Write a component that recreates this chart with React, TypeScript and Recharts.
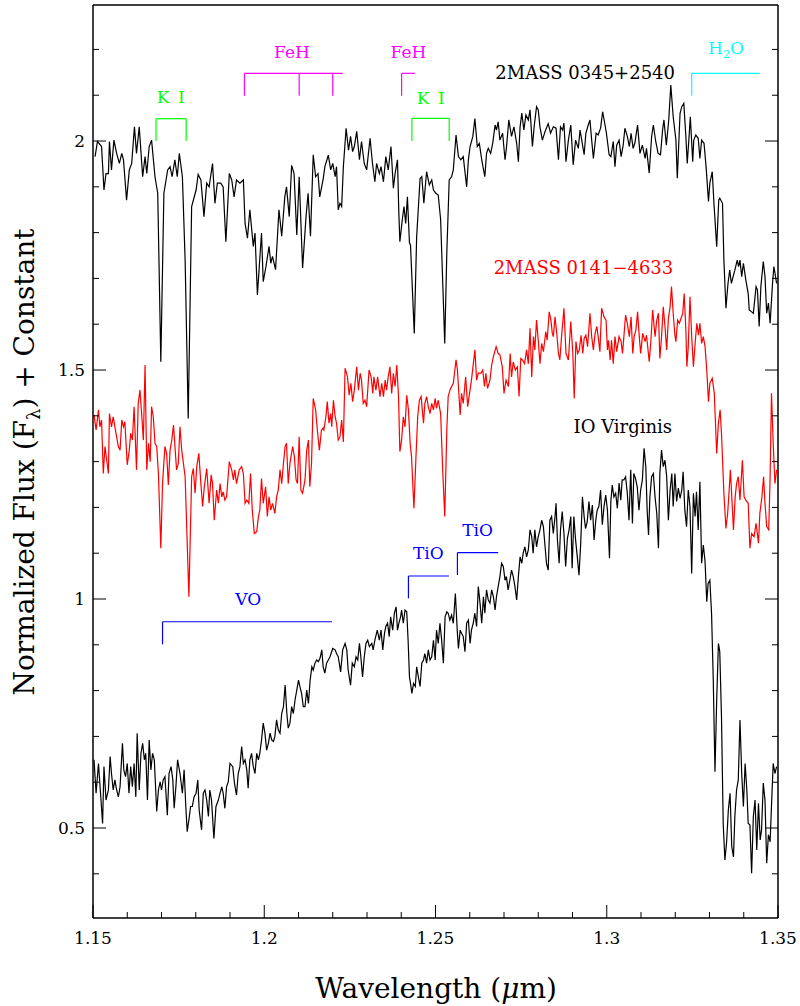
import { LineChart, Line, XAxis, YAxis, ReferenceLine, ReferenceDot } from 'recharts';

// [wavelength (um), normalized flux + offset]
const spec0345: [number, number][] = [
  [1.1506,1.966],[1.1513,1.999],[1.1525,1.988],[1.1532,1.893],[1.1538,1.929],[1.1545,1.929],[1.1548,1.999],[1.1554,1.937],[1.1561,2.002],[1.1569,1.973],
  [1.1577,1.951],[1.1584,1.973],[1.1589,1.959],[1.1598,1.871],[1.1606,1.937],[1.1613,1.951],[1.1621,2.031],[1.1627,1.973],[1.1635,2.031],[1.1645,1.922],
  [1.1652,1.966],[1.1657,1.929],[1.1664,1.988],[1.1671,2.002],[1.1681,1.922],[1.1689,1.886],[1.1698,1.518],[1.1707,1.886],[1.1718,1.937],[1.1725,1.944],
  [1.1731,1.922],[1.1739,1.959],[1.1746,1.922],[1.1752,1.973],[1.1761,1.922],[1.1769,1.740],[1.1778,1.394],[1.1788,1.857],[1.1801,1.893],[1.1807,1.927],
  [1.1815,1.915],[1.1824,1.835],[1.1832,1.908],[1.1839,1.900],[1.1849,1.951],[1.1856,1.864],[1.1863,1.908],[1.1873,1.908],[1.1880,1.900],[1.1888,1.780],
  [1.1898,1.929],[1.1905,1.915],[1.1912,1.878],[1.1919,1.915],[1.1929,1.908],[1.1939,1.915],[1.1944,1.820],[1.1951,1.788],[1.1958,1.850],[1.1968,1.770],
  [1.1973,1.799],[1.1980,1.664],[1.1992,1.799],[1.1997,1.693],[1.2005,1.726],[1.2014,1.770],[1.2019,1.733],[1.2024,1.748],[1.2033,1.719],[1.2043,1.850],
  [1.2051,1.792],[1.2060,1.878],[1.2065,1.900],[1.2073,1.835],[1.2080,1.947],[1.2087,1.929],[1.2095,1.795],[1.2102,1.922],[1.2112,1.723],[1.2122,1.835],
  [1.2128,1.886],[1.2135,1.792],[1.2143,1.970],[1.2150,1.922],[1.2157,1.929],[1.2162,1.878],[1.2172,1.917],
  [1.2177,1.944],[1.2187,1.969],[1.2194,1.937],[1.2200,1.951],[1.2207,1.922],[1.2211,1.944],[1.2216,1.850],[1.2221,1.864],[1.2226,1.857],[1.2231,1.944],
  [1.2239,2.028],[1.2246,1.980],[1.2252,2.010],[1.2258,1.977],[1.2263,1.988],[1.2270,2.021],[1.2278,1.959],[1.2284,1.999],[1.2292,1.951],[1.2299,1.937],
  [1.2309,2.006],[1.2316,1.951],[1.2323,1.911],[1.2328,1.951],[1.2336,1.929],[1.2341,1.944],[1.2348,1.911],[1.2355,1.966],[1.2362,1.937],[1.2370,1.988],
  [1.2377,1.897],[1.2382,1.929],[1.2389,1.959],[1.2393,1.842],[1.2396,1.780],[1.2403,1.828],[1.2408,1.857],[1.2413,1.820],[1.2418,1.878],[1.2424,1.777],
  [1.2427,1.773],[1.2438,1.580],[1.2445,1.791],[1.2455,1.918],[1.2460,1.922],[1.2466,1.864],[1.2474,1.933],[1.2482,1.904],[1.2489,1.915],[1.2494,1.893],
  [1.2501,1.886],[1.2508,1.882],[1.2515,1.828],[1.2527,1.558],[1.2533,1.755],[1.2540,1.915],[1.2547,1.922],[1.2552,1.937],[1.2560,2.013],[1.2567,1.966],
  [1.2574,1.959],[1.2581,1.966],[1.2591,1.900],[1.2596,1.959],[1.2601,1.988],[1.2609,2.010],[1.2615,2.049],[1.2622,1.988],[1.2628,1.995],[1.2635,1.959],
  [1.2644,1.922],[1.2649,1.973],[1.2654,1.984],[1.2661,1.973],[1.2667,1.995],[1.2674,2.035],[1.2678,2.024],[1.2683,2.042],[1.2688,2.002],[1.2696,2.017],
  [1.2703,1.959],[1.2707,1.984],[1.2714,2.046],[1.2722,2.010],[1.2729,2.031],[1.2737,1.995],[1.2742,1.955],[1.2747,2.031],[1.2752,2.061],[1.2758,2.024],
  [1.2764,2.057],[1.2771,2.046],[1.2776,2.068],[1.2783,1.988],[1.2788,2.031],[1.2795,2.075],[1.2800,2.068],[1.2805,2.031],[1.2812,2.002],[1.2820,2.021],
  [1.2829,2.038],[1.2836,2.017],[1.2844,2.031],
  [1.2852,2.028],[1.2859,1.959],[1.2865,2.031],[1.2871,2.024],[1.2875,2.039],[1.2881,1.955],[1.2888,2.002],[1.2895,2.035],[1.2902,1.948],[1.2909,2.002],
  [1.2917,1.984],[1.2922,2.024],[1.2927,2.002],[1.2934,1.970],[1.2939,2.017],[1.2946,2.035],[1.2951,2.046],[1.2956,2.002],[1.2961,1.962],[1.2969,2.017],
  [1.2975,2.013],[1.2982,2.028],[1.2988,2.064],[1.2995,2.035],[1.2999,2.017],[1.3007,1.970],[1.3012,1.966],[1.3019,1.999],[1.3024,1.944],[1.3029,1.991],
  [1.3036,2.002],[1.3042,1.966],[1.3048,1.991],[1.3053,2.028],[1.3060,2.010],[1.3066,1.988],[1.3071,2.017],[1.3077,1.984],[1.3082,1.995],[1.3090,2.035],
  [1.3097,1.973],[1.3104,1.991],[1.3112,1.962],[1.3116,1.984],[1.3124,1.930],[1.3131,2.010],[1.3136,2.035],[1.3143,1.999],[1.3150,1.973],[1.3157,1.970],
  [1.3163,2.024],[1.3167,2.046],[1.3174,1.991],[1.3181,2.046],[1.3187,2.122],[1.3194,2.053],[1.3202,2.002],[1.3206,1.919],[1.3214,2.060],[1.3219,2.075],
  [1.3225,2.082],[1.3231,2.010],[1.3235,1.951],[1.3241,2.017],[1.3244,2.053],[1.3251,1.955],[1.3254,2.002],[1.3260,2.013],[1.3267,2.006],[1.3272,1.962],
  [1.3277,2.002],[1.3284,1.995],[1.3290,1.944],[1.3297,1.868],[1.3301,1.908],[1.3308,1.933],[1.3313,1.864],[1.3321,1.769],[1.3327,1.871],[1.3330,1.875],
  [1.3338,1.864],[1.3342,1.740],[1.3348,1.635],[1.3354,1.689],[1.3359,1.718],[1.3364,1.689],[1.3369,1.704],[1.3374,1.718],[1.3381,1.740],[1.3385,1.726],
  [1.3389,1.740],[1.3394,1.704],[1.3399,1.733],[1.3406,1.697],[1.3413,1.667],[1.3416,1.631],[1.3423,1.627],[1.3428,1.624],[1.3436,1.682],[1.3440,1.675],
  [1.3445,1.595],[1.3450,1.682],[1.3457,1.737],[1.3462,1.704],[1.3467,1.624],[1.3472,1.646],[1.3477,1.602],[1.3484,1.689],[1.3488,1.726],[1.3496,1.689],
];

const spec0141: [number, number][] = [
  [1.1503,1.402],[1.1509,1.369],[1.1516,1.413],[1.1520,1.376],[1.1525,1.391],[1.1530,1.274],[1.1535,1.333],[1.1540,1.303],[1.1545,1.274],[1.1548,1.405],
  [1.1554,1.376],[1.1559,1.398],[1.1567,1.362],[1.1574,1.333],[1.1579,1.325],[1.1584,1.391],[1.1589,1.376],[1.1593,1.387],[1.1600,1.293],[1.1606,1.325],
  [1.1610,1.362],[1.1615,1.347],[1.1620,1.420],[1.1627,1.282],[1.1632,1.427],[1.1637,1.456],[1.1642,1.405],[1.1647,1.347],[1.1652,1.511],[1.1657,1.282],
  [1.1662,1.340],[1.1667,1.300],[1.1671,1.420],[1.1676,1.398],[1.1681,1.340],[1.1686,1.333],[1.1691,1.274],[1.1698,1.111],[1.1703,1.252],[1.1710,1.333],
  [1.1715,1.318],[1.1720,1.249],[1.1725,1.325],[1.1730,1.347],[1.1735,1.380],[1.1740,1.325],[1.1744,1.282],[1.1749,1.296],[1.1754,1.376],[1.1759,1.325],
  [1.1769,1.267],[1.1780,1.005],[1.1788,1.267],[1.1793,1.285],[1.1798,1.231],[1.1803,1.289],[1.1809,1.318],[1.1815,1.252],[1.1820,1.202],[1.1825,1.245],
  [1.1832,1.285],[1.1839,1.209],[1.1845,1.271],[1.1849,1.252],[1.1854,1.172],[1.1861,1.238],[1.1866,1.209],[1.1871,1.252],[1.1876,1.223],[1.1880,1.234],
  [1.1885,1.216],[1.1890,1.223],[1.1898,1.300],[1.1905,1.282],[1.1910,1.260],[1.1914,1.282],[1.1919,1.252],[1.1927,1.282],[1.1934,1.289],[1.1939,1.274],
  [1.1944,1.209],[1.1949,1.216],[1.1955,1.209],[1.1960,1.274],[1.1965,1.194],[1.1971,1.143],[1.1978,1.147],[1.1983,1.180],[1.1987,1.194],[1.1992,1.263],
  [1.1997,1.209],[1.2004,1.245],[1.2009,1.180],[1.2014,1.223],[1.2019,1.194],[1.2024,1.209],[1.2031,1.187],[1.2036,1.223],[1.2041,1.238],[1.2046,1.282],
  [1.2051,1.252],[1.2056,1.296],[1.2061,1.333],[1.2065,1.340],[1.2070,1.252],[1.2075,1.296],[1.2083,1.333],[1.2088,1.311],[1.2093,1.260],[1.2097,1.252],
  [1.2102,1.354],[1.2107,1.238],[1.2112,1.231],[1.2119,1.260],[1.2124,1.325],[1.2129,1.347],[1.2133,1.245],[1.2138,1.296],[1.2143,1.438],[1.2150,1.413],
  [1.2155,1.369],[1.2161,1.325],[1.2167,1.369],[1.2172,1.373],
  [1.2174,1.369],[1.2180,1.398],[1.2184,1.431],[1.2189,1.384],[1.2194,1.405],[1.2197,1.376],[1.2202,1.434],[1.2207,1.398],[1.2211,1.384],[1.2216,1.347],
  [1.2221,1.354],[1.2226,1.391],[1.2231,1.343],[1.2236,1.504],[1.2243,1.485],[1.2248,1.445],[1.2253,1.471],[1.2258,1.431],[1.2263,1.456],[1.2270,1.507],
  [1.2275,1.456],[1.2280,1.493],[1.2284,1.478],[1.2289,1.427],[1.2294,1.434],[1.2299,1.420],[1.2306,1.500],[1.2312,1.485],[1.2317,1.449],[1.2320,1.485],
  [1.2326,1.456],[1.2331,1.485],[1.2338,1.442],[1.2343,1.471],[1.2348,1.442],[1.2353,1.478],[1.2357,1.456],[1.2362,1.485],[1.2367,1.507],[1.2372,1.449],
  [1.2377,1.493],[1.2382,1.464],[1.2387,1.511],[1.2392,1.442],[1.2396,1.322],[1.2401,1.347],[1.2406,1.398],[1.2411,1.376],[1.2416,1.445],[1.2421,1.413],
  [1.2426,1.340],[1.2430,1.311],[1.2437,1.198],[1.2443,1.311],[1.2448,1.398],[1.2453,1.434],[1.2458,1.442],[1.2465,1.384],[1.2469,1.427],[1.2474,1.442],
  [1.2479,1.420],[1.2484,1.405],[1.2489,1.427],[1.2494,1.413],[1.2499,1.438],[1.2503,1.416],[1.2508,1.434],[1.2515,1.405],[1.2521,1.282],[1.2527,1.180],
  [1.2533,1.369],[1.2537,1.442],[1.2542,1.456],[1.2547,1.464],[1.2552,1.471],[1.2560,1.522],[1.2564,1.500],[1.2572,1.402],[1.2576,1.449],[1.2581,1.427],
  [1.2588,1.485],[1.2594,1.420],[1.2598,1.442],[1.2605,1.478],[1.2615,1.544],[1.2620,1.478],[1.2625,1.493],[1.2633,1.493],[1.2638,1.500],[1.2643,1.464],
  [1.2647,1.493],[1.2652,1.460],[1.2659,1.478],[1.2664,1.511],[1.2669,1.529],[1.2677,1.551],[1.2683,1.536],[1.2688,1.533],[1.2695,1.507],[1.2700,1.449],
  [1.2706,1.478],[1.2713,1.464],[1.2718,1.536],[1.2722,1.485],[1.2727,1.518],[1.2733,1.500],[1.2739,1.507],[1.2744,1.442],[1.2749,1.525],[1.2754,1.522],
  [1.2760,1.514],[1.2766,1.544],[1.2771,1.514],[1.2776,1.591],[1.2781,1.485],[1.2786,1.573],[1.2790,1.544],[1.2795,1.609],[1.2800,1.565],[1.2805,1.514],
  [1.2810,1.558],[1.2815,1.540],[1.2822,1.584],[1.2826,1.565],[1.2832,1.627],[1.2837,1.609],[1.2841,1.580],[1.2844,1.573],
  [1.2849,1.616],[1.2854,1.580],[1.2859,1.536],[1.2863,1.522],[1.2868,1.573],[1.2875,1.635],[1.2881,1.536],[1.2888,1.522],[1.2895,1.606],[1.2901,1.536],
  [1.2905,1.438],[1.2910,1.562],[1.2915,1.536],[1.2920,1.544],[1.2925,1.576],[1.2930,1.536],[1.2934,1.569],[1.2939,1.576],[1.2944,1.551],[1.2951,1.624],
  [1.2956,1.573],[1.2961,1.544],[1.2966,1.580],[1.2971,1.595],[1.2975,1.573],[1.2980,1.540],[1.2985,1.635],[1.2992,1.616],[1.2998,1.609],[1.3002,1.544],
  [1.3005,1.565],[1.3010,1.522],[1.3014,1.565],[1.3019,1.514],[1.3024,1.573],[1.3029,1.540],[1.3036,1.573],[1.3042,1.562],[1.3046,1.536],[1.3050,1.573],
  [1.3055,1.620],[1.3060,1.602],[1.3066,1.573],[1.3071,1.616],[1.3076,1.536],[1.3080,1.573],[1.3085,1.587],[1.3090,1.627],[1.3095,1.573],[1.3099,1.536],
  [1.3105,1.580],[1.3112,1.562],[1.3116,1.576],[1.3119,1.555],[1.3124,1.518],[1.3129,1.565],[1.3134,1.631],[1.3141,1.573],[1.3146,1.609],[1.3151,1.624],
  [1.3155,1.525],[1.3160,1.573],[1.3165,1.638],[1.3170,1.595],[1.3175,1.544],[1.3180,1.613],[1.3185,1.638],[1.3189,1.682],[1.3194,1.624],[1.3199,1.576],
  [1.3202,1.562],[1.3207,1.609],[1.3212,1.602],[1.3217,1.613],[1.3222,1.624],[1.3226,1.667],[1.3231,1.587],[1.3234,1.507],[1.3238,1.551],[1.3243,1.660],
  [1.3248,1.573],[1.3253,1.507],[1.3258,1.558],[1.3263,1.602],[1.3268,1.576],[1.3272,1.602],[1.3277,1.558],[1.3282,1.573],[1.3287,1.551],[1.3292,1.500],
  [1.3297,1.431],[1.3301,1.471],[1.3308,1.482],[1.3314,1.449],[1.3321,1.318],[1.3326,1.384],[1.3331,1.413],[1.3335,1.362],[1.3342,1.231],[1.3348,1.154],
  [1.3353,1.187],[1.3358,1.245],[1.3361,1.282],[1.3366,1.209],[1.3370,1.151],[1.3375,1.223],[1.3379,1.252],[1.3384,1.267],[1.3389,1.216],[1.3396,1.303],
  [1.3401,1.223],[1.3406,1.216],[1.3413,1.209],[1.3418,1.111],[1.3423,1.143],[1.3430,1.136],[1.3436,1.165],[1.3443,1.122],[1.3447,1.187],[1.3453,1.223],
  [1.3458,1.267],[1.3462,1.209],[1.3467,1.158],[1.3473,1.151],[1.3477,1.267],[1.3481,1.449],[1.3486,1.340],[1.3491,1.252],[1.3496,1.282],
];

const ioVirginis: [number, number][] = [
  [1.1503,0.649],[1.1509,0.576],[1.1516,0.641],[1.1522,0.576],[1.1528,0.510],[1.1532,0.634],[1.1538,0.561],[1.1545,0.583],[1.1550,0.656],[1.1554,0.619],
  [1.1559,0.583],[1.1564,0.605],[1.1569,0.583],[1.1574,0.568],[1.1579,0.590],[1.1586,0.685],[1.1590,0.627],[1.1595,0.612],[1.1600,0.641],[1.1605,0.576],
  [1.1610,0.634],[1.1615,0.590],[1.1620,0.641],[1.1625,0.568],[1.1629,0.707],[1.1635,0.583],[1.1640,0.663],[1.1645,0.685],[1.1650,0.649],[1.1654,0.663],
  [1.1659,0.561],[1.1664,0.692],[1.1669,0.627],[1.1674,0.663],[1.1679,0.649],[1.1686,0.536],[1.1691,0.583],[1.1696,0.601],[1.1700,0.583],[1.1705,0.605],
  [1.1710,0.612],[1.1717,0.528],[1.1722,0.619],[1.1728,0.634],[1.1733,0.605],[1.1737,0.543],[1.1742,0.590],[1.1747,0.649],[1.1754,0.619],[1.1761,0.576],
  [1.1766,0.627],[1.1771,0.547],[1.1775,0.492],[1.1780,0.518],[1.1785,0.547],[1.1790,0.547],[1.1795,0.568],[1.1801,0.576],[1.1806,0.605],[1.1810,0.539],
  [1.1817,0.496],[1.1822,0.576],[1.1827,0.583],[1.1832,0.561],[1.1837,0.525],[1.1841,0.583],[1.1846,0.561],[1.1853,0.477],[1.1859,0.547],[1.1866,0.561],
  [1.1871,0.576],[1.1876,0.590],[1.1880,0.576],[1.1885,0.543],[1.1890,0.590],[1.1895,0.601],[1.1900,0.641],[1.1908,0.634],[1.1913,0.598],[1.1919,0.572],
  [1.1924,0.619],[1.1929,0.634],[1.1934,0.678],[1.1939,0.641],[1.1944,0.649],[1.1949,0.627],[1.1953,0.587],[1.1958,0.649],[1.1963,0.663],[1.1968,0.634],
  [1.1973,0.619],[1.1978,0.663],[1.1983,0.649],[1.1987,0.663],[1.1992,0.692],[1.1997,0.729],[1.2002,0.707],[1.2007,0.670],[1.2012,0.685],[1.2017,0.707],
  [1.2022,0.692],[1.2027,0.689],[1.2031,0.700],[1.2036,0.736],[1.2041,0.714],[1.2046,0.707],[1.2051,0.750],[1.2056,0.765],[1.2061,0.812],[1.2066,0.750],
  [1.2070,0.718],[1.2075,0.729],[1.2080,0.765],[1.2085,0.750],[1.2090,0.780],[1.2095,0.801],[1.2100,0.823],[1.2104,0.809],[1.2109,0.794],[1.2114,0.765],
  [1.2119,0.765],[1.2124,0.801],[1.2129,0.772],[1.2134,0.823],[1.2139,0.852],[1.2143,0.845],[1.2148,0.860],[1.2153,0.867],[1.2158,0.863],[1.2163,0.871],
  [1.2168,0.889],[1.2172,0.852],
  [1.2177,0.838],[1.2182,0.860],[1.2187,0.867],[1.2192,0.874],[1.2200,0.892],[1.2207,0.889],[1.2211,0.881],[1.2216,0.874],[1.2223,0.841],[1.2229,0.889],
  [1.2236,0.903],[1.2241,0.889],[1.2245,0.845],[1.2252,0.812],[1.2257,0.860],[1.2263,0.852],[1.2268,0.874],[1.2273,0.867],[1.2278,0.903],[1.2282,0.874],
  [1.2287,0.830],[1.2292,0.874],[1.2297,0.903],[1.2302,0.910],[1.2307,0.896],[1.2314,0.903],[1.2318,0.889],[1.2323,0.910],[1.2330,0.932],[1.2336,0.910],
  [1.2341,0.932],[1.2346,0.889],[1.2351,0.925],[1.2355,0.940],[1.2360,0.947],[1.2365,0.918],[1.2369,0.961],[1.2375,0.932],[1.2380,0.969],[1.2385,0.983],
  [1.2389,0.932],[1.2393,0.947],[1.2398,0.961],[1.2401,0.976],[1.2406,0.947],[1.2411,0.976],[1.2416,0.972],[1.2420,0.910],[1.2424,0.830],[1.2427,0.816],
  [1.2431,0.794],[1.2436,0.816],[1.2441,0.809],[1.2445,0.852],[1.2450,0.830],[1.2455,0.809],[1.2460,0.860],[1.2465,0.867],[1.2469,0.881],[1.2474,0.860],
  [1.2479,0.889],[1.2484,0.867],[1.2489,0.874],[1.2494,0.910],[1.2499,0.867],[1.2503,0.932],[1.2508,0.903],[1.2513,0.947],[1.2518,0.910],[1.2523,0.860],
  [1.2528,0.961],[1.2533,0.972],[1.2537,0.969],[1.2542,0.954],[1.2547,0.965],[1.2552,0.947],[1.2558,1.012],[1.2564,0.925],[1.2567,0.892],[1.2572,0.932],
  [1.2576,0.925],[1.2581,0.918],[1.2586,0.885],[1.2591,0.947],[1.2596,0.954],[1.2601,0.903],[1.2605,0.932],[1.2610,0.947],[1.2615,0.969],[1.2620,0.940],
  [1.2625,1.027],[1.2630,0.991],[1.2635,0.947],[1.2640,1.005],[1.2644,0.969],[1.2649,1.020],[1.2654,0.998],[1.2659,0.991],[1.2664,1.020],[1.2669,1.005],
  [1.2674,0.976],[1.2678,1.005],[1.2683,1.027],[1.2688,1.049],[1.2693,1.078],[1.2698,1.071],[1.2703,1.041],[1.2707,1.049],[1.2712,1.020],[1.2717,1.041],
  [1.2722,1.063],[1.2727,1.049],[1.2732,1.027],[1.2737,0.998],[1.2742,1.049],[1.2747,1.092],[1.2752,1.078],[1.2756,1.100],[1.2761,1.114],[1.2766,1.092],
  [1.2771,1.107],[1.2776,1.151],[1.2781,1.136],[1.2785,1.100],[1.2790,1.151],[1.2795,1.114],[1.2800,1.136],[1.2805,1.151],[1.2810,1.172],[1.2815,1.158],
  [1.2820,1.114],[1.2824,1.078],[1.2829,1.063],[1.2834,1.172],[1.2839,1.180],[1.2844,1.143],
  [1.2849,1.180],[1.2852,1.209],[1.2856,1.129],[1.2861,1.078],[1.2865,1.151],[1.2870,1.191],[1.2875,1.143],[1.2880,1.071],[1.2885,1.132],[1.2890,1.151],
  [1.2895,1.180],[1.2899,1.067],[1.2904,1.180],[1.2909,1.129],[1.2914,1.092],[1.2919,1.052],[1.2924,1.122],[1.2929,1.223],[1.2934,1.180],[1.2938,1.154],
  [1.2943,1.169],[1.2948,1.213],[1.2953,1.172],[1.2958,1.205],[1.2963,1.129],[1.2968,1.172],[1.2972,1.194],[1.2977,1.202],[1.2982,1.238],[1.2987,1.162],
  [1.2992,1.202],[1.2997,1.227],[1.3002,1.194],[1.3008,1.089],[1.3012,1.213],[1.3016,1.249],[1.3021,1.223],[1.3026,1.231],[1.3031,1.198],[1.3036,1.253],
  [1.3041,1.216],[1.3045,1.260],[1.3050,1.260],[1.3055,1.267],[1.3060,1.231],[1.3065,1.172],[1.3070,1.282],[1.3075,1.165],[1.3079,1.274],[1.3084,1.263],
  [1.3089,1.245],[1.3094,1.194],[1.3099,1.238],[1.3104,1.260],[1.3109,1.329],[1.3114,1.289],[1.3118,1.194],[1.3122,1.140],[1.3126,1.223],[1.3131,1.267],
  [1.3136,1.274],[1.3141,1.223],[1.3146,1.187],[1.3151,1.111],[1.3155,1.274],[1.3160,1.325],[1.3165,1.289],[1.3170,1.303],[1.3175,1.267],[1.3180,1.172],
  [1.3185,1.238],[1.3190,1.274],[1.3194,1.202],[1.3199,1.274],[1.3204,1.213],[1.3209,1.242],[1.3214,1.220],[1.3219,1.238],[1.3223,1.278],[1.3228,1.194],
  [1.3233,1.158],[1.3238,1.238],[1.3243,1.202],[1.3248,1.056],[1.3253,1.231],[1.3258,1.180],[1.3262,1.234],[1.3267,1.151],[1.3272,1.256],[1.3277,1.078],
  [1.3282,1.118],[1.3287,1.082],[1.3292,0.994],[1.3296,1.034],[1.3301,1.041],[1.3306,0.969],[1.3311,0.823],[1.3316,0.623],[1.3321,0.779],[1.3326,0.903],
  [1.3330,0.885],[1.3335,0.743],[1.3340,0.510],[1.3345,0.430],[1.3350,0.470],[1.3355,0.539],[1.3360,0.576],[1.3365,0.459],[1.3370,0.437],[1.3374,0.525],
  [1.3379,0.583],[1.3384,0.605],[1.3389,0.736],[1.3394,0.619],[1.3399,0.547],[1.3404,0.641],[1.3409,0.583],[1.3413,0.510],[1.3418,0.507],[1.3423,0.401],
  [1.3428,0.525],[1.3433,0.561],[1.3438,0.452],[1.3443,0.554],[1.3448,0.474],[1.3452,0.496],[1.3457,0.598],[1.3462,0.561],[1.3467,0.423],[1.3472,0.485],
  [1.3477,0.470],[1.3482,0.568],[1.3486,0.641],[1.3491,0.619],[1.3496,0.634],
];

const xTicks = [1.15, 1.16, 1.17, 1.18, 1.19, 1.2, 1.21, 1.22, 1.23, 1.24, 1.25, 1.26, 1.27, 1.28, 1.29, 1.3, 1.31, 1.32, 1.33, 1.34, 1.35];
const yTicks = [0.4, 0.5, 0.6, 0.7, 0.8, 0.9, 1, 1.1, 1.2, 1.3, 1.4, 1.5, 1.6, 1.7, 1.8, 1.9, 2, 2.1, 2.2];

// absorption band markers: bracket span, leg positions, bracket/leg heights, label anchor
const bands = [
  { label: 'K I', color: '#00ff00', from: 1.1684, to: 1.1772, legs: [1.1684, 1.1772], top: 2.0487, foot: 2.0, lx: 1.1727, ly: 2.0967 },
  { label: 'K I', color: '#00ff00', from: 1.2431, to: 1.254, legs: [1.2431, 1.254], top: 2.0496, foot: 2.0, lx: 1.2486, ly: 2.095 },
  { label: 'FeH', color: '#ff00ff', from: 1.1942, to: 1.2229, legs: [1.1942, 1.2102, 1.22], top: 2.1478, foot: 2.0989, lx: 1.2081, ly: 2.195 },
  { label: 'FeH', color: '#ff00ff', from: 1.2401, to: 1.244, legs: [1.2401], top: 2.1478, foot: 2.0989, lx: 1.2421, ly: 2.195 },
  { label: 'H2O', color: '#00ffff', from: 1.3248, to: 1.3447, legs: [1.3248], top: 2.1478, foot: 2.0989, lx: 1.3348, ly: 2.2035 },
  { label: 'VO', color: '#0000ff', from: 1.1703, to: 1.2198, legs: [1.1703], top: 0.9504, foot: 0.901, lx: 1.1953, ly: 1.0004 },
  { label: 'TiO', color: '#0000ff', from: 1.2421, to: 1.2539, legs: [1.2421], top: 1.0502, foot: 1.0015, lx: 1.2479, ly: 1.0998 },
  { label: 'TiO', color: '#0000ff', from: 1.2564, to: 1.2683, legs: [1.2564], top: 1.1011, foot: 1.0524, lx: 1.2623, ly: 1.15 },
];

const spectra = [
  { name: '2MASS 0345+2540', points: spec0345, color: '#000000', lx: 1.2937, ly: 2.148 },
  { name: '2MASS 0141\u22124633', points: spec0141, color: '#ff0000', lx: 1.2932, ly: 1.7238 },
  { name: 'IO Virginis', points: ioVirginis, color: '#000000', lx: 1.3047, ly: 1.3755 },
];

const serif = "'DejaVu Serif', serif";
const xMajor = (v: number) => Math.round(v * 100) % 5 === 0;
const yMajor = (v: number) => Math.round(v * 10) % 5 === 0;
const fmt = (v: number) => String(Math.round(v * 100) / 100);

const BottomTick = ({ x, y, payload }: any) => {
  const major = xMajor(payload.value);
  return (
    <g>
      <line x1={x} x2={x} y1={y} y2={y - (major ? 13 : 6)} stroke="#000" strokeWidth={1} />
      {major && (
        <text x={x} y={y + 26} textAnchor="middle" fontFamily={serif} fontSize={17} fill="#000">
          {fmt(payload.value)}
        </text>
      )}
    </g>
  );
};

const TopTick = ({ x, y, payload }: any) => (
  <line x1={x} x2={x} y1={y} y2={y + (xMajor(payload.value) ? 13 : 6)} stroke="#000" strokeWidth={1} />
);

const LeftTick = ({ x, y, payload }: any) => {
  const major = yMajor(payload.value);
  return (
    <g>
      <line x1={x} x2={x + (major ? 13 : 6)} y1={y} y2={y} stroke="#000" strokeWidth={1} />
      {major && (
        <text x={x - 8} y={y + 6} textAnchor="end" fontFamily={serif} fontSize={17} fill="#000">
          {fmt(payload.value)}
        </text>
      )}
    </g>
  );
};

const RightTick = ({ x, y, payload }: any) => (
  <line x1={x} x2={x - (yMajor(payload.value) ? 13 : 6)} y1={y} y2={y} stroke="#000" strokeWidth={1} />
);

const BandLabel = ({ text, color }: { text: string; color: string }) => (props: any) => {
  if (text === 'H2O') {
    return (
      <text x={props.cx} y={props.cy + 6} textAnchor="middle" fontFamily={serif} fontSize={17} fill={color}>
        H<tspan fontSize={11} dy={4}>2</tspan><tspan dy={-4}>O</tspan>
      </text>
    );
  }
  return (
    <text x={props.cx} y={props.cy + 6} textAnchor="middle" fontFamily={serif} fontSize={17} fill={color}>
      {text === 'K I' ? 'K\u2002I' : text}
    </text>
  );
};

const NameLabel = ({ text, color }: { text: string; color: string }) => (props: any) => (
  <text x={props.cx} y={props.cy + 6} textAnchor="middle" fontFamily={serif} fontSize={18} fill={color}>
    {text}
  </text>
);

const axisLine = { stroke: '#000', strokeWidth: 1.5 };

export default function App() {
  return (
    <div style={{ position: 'absolute', left: 0, top: 0, width: 800, height: 1006, background: '#fff' }}>
      <LineChart width={800} height={1006} margin={{ top: 0, right: 12, bottom: 48, left: 33 }}>
        <XAxis
          xAxisId={0}
          dataKey="w"
          type="number"
          domain={[1.15, 1.35]}
          ticks={xTicks}
          interval={0}
          height={40}
          tickSize={0}
          tickMargin={0}
          tickLine={false}
          axisLine={axisLine}
          tick={BottomTick}
          allowDataOverflow
        />
        <XAxis
          xAxisId="top"
          orientation="top"
          type="number"
          domain={[1.15, 1.35]}
          ticks={xTicks}
          interval={0}
          height={5}
          tickSize={0}
          tickMargin={0}
          tickLine={false}
          axisLine={axisLine}
          tick={TopTick}
          allowDataOverflow
        />
        <YAxis
          yAxisId={0}
          type="number"
          domain={[0.3035, 2.297]}
          ticks={yTicks}
          interval={0}
          width={60}
          tickSize={0}
          tickMargin={0}
          tickLine={false}
          axisLine={axisLine}
          tick={LeftTick}
          allowDataOverflow
        />
        <YAxis
          yAxisId="right"
          orientation="right"
          type="number"
          domain={[0.3035, 2.297]}
          ticks={yTicks}
          interval={0}
          width={10}
          tickSize={0}
          tickMargin={0}
          tickLine={false}
          axisLine={axisLine}
          tick={RightTick}
          allowDataOverflow
        />

        {spectra.map((s) => (
          <Line
            key={s.name}
            data={s.points.map(([w, f]) => ({ w, f }))}
            dataKey="f"
            type="linear"
            stroke={s.color}
            strokeWidth={1.2}
            dot={false}
            activeDot={false}
            isAnimationActive={false}
          />
        ))}

        {bands.map((b, i) => (
          <ReferenceLine
            key={`top-${i}`}
            segment={[{ x: b.from, y: b.top }, { x: b.to, y: b.top }]}
            stroke={b.color}
            strokeWidth={1.2}
          />
        ))}
        {bands.flatMap((b, i) =>
          b.legs.map((l, j) => (
            <ReferenceLine
              key={`leg-${i}-${j}`}
              segment={[{ x: l, y: b.top }, { x: l, y: b.foot }]}
              stroke={b.color}
              strokeWidth={1.2}
            />
          ))
        )}
        {bands.map((b, i) => (
          <ReferenceDot key={`lab-${i}`} x={b.lx} y={b.ly} r={0} shape={BandLabel({ text: b.label, color: b.color })} />
        ))}
        {spectra.map((s) => (
          <ReferenceDot key={`name-${s.name}`} x={s.lx} y={s.ly} r={0} shape={NameLabel({ text: s.name, color: s.color })} />
        ))}
      </LineChart>

      <svg width={800} height={1006} style={{ position: 'absolute', left: 0, top: 0, pointerEvents: 'none' }}>
        <text x={436} y={998} textAnchor="middle" fontFamily={serif} fontSize={28} fill="#000">
          Wavelength (<tspan fontStyle="italic">μ</tspan>m)
        </text>
        <text
          x={0}
          y={0}
          transform="translate(34, 462) rotate(-90)"
          textAnchor="middle"
          fontFamily={serif}
          fontSize={28}
          fill="#000"
        >
          Normalized Flux (F<tspan fontSize={18} dy={6}>λ</tspan><tspan dy={-6}>) + Constant</tspan>
        </text>
      </svg>
    </div>
  );
}
